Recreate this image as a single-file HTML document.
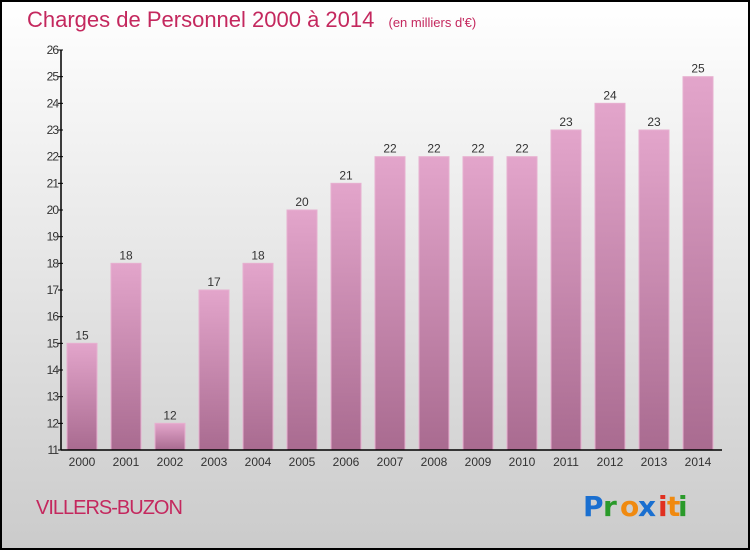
<!DOCTYPE html>
<html><head><meta charset="utf-8"><style>
body{margin:0;width:750px;height:550px;overflow:hidden}
svg{display:block;font-family:"Liberation Sans",sans-serif}
</style></head><body>
<svg width="750" height="550" viewBox="0 0 750 550" xmlns="http://www.w3.org/2000/svg">
<defs>
<linearGradient id="bg" x1="0" y1="0" x2="0" y2="1"><stop offset="0" stop-color="#ffffff"/><stop offset="1" stop-color="#cbcbcb"/></linearGradient>
<linearGradient id="bar" x1="0" y1="0" x2="0" y2="1"><stop offset="0" stop-color="#e3a5cb"/><stop offset="1" stop-color="#a96b90"/></linearGradient>
</defs>
<rect x="1" y="1" width="748" height="548" fill="url(#bg)" stroke="#000" stroke-width="2"/>
<text x="27" y="27" font-size="22" fill="#c4285e">Charges de Personnel 2000 à 2014 <tspan font-size="13" dx="8">(en milliers d'€)</tspan></text>
<g id="plot"></g>
<text x="36" y="514" font-size="20" fill="#c4285e" letter-spacing="-1">VILLERS-BUZON</text>
<g font-size="28" font-weight="bold" font-family="'DejaVu Sans',sans-serif">
<text x="583" y="516" fill="#1a6fd0">P</text><text x="603" y="516" fill="#2a9a2a">r</text><text x="620" y="516" fill="#f08a10">o</text><text x="638" y="516" fill="#1a6fd0">x</text><text x="658" y="516" fill="#e03020">i</text><text x="667" y="516" fill="#f08a10">t</text><text x="678" y="516" fill="#2a9a2a">i</text>
</g>
</svg>
<script>
const years=["2000","2001","2002","2003","2004","2005","2006","2007","2008","2009","2010","2011","2012","2013","2014"];
const values=[15,18,12,17,18,20,21,22,22,22,22,23,24,23,25];
const yTicks=[11,12,13,14,15,16,17,18,19,20,21,22,23,24,25,26];
const NS="http://www.w3.org/2000/svg";
const g=document.getElementById('plot');
const y0=450,yTop=50,vMin=11,vMax=26;
const yS=v=>y0-(v-vMin)*(y0-yTop)/(vMax-vMin);
const xS=i=>82+i*44;
function mk(t,a){const e=document.createElementNS(NS,t);for(const k in a)e.setAttribute(k,a[k]);g.appendChild(e);return e;}
values.forEach((v,i)=>{
 const r=mk('rect',{x:xS(i)-15,y:yS(v),width:30,height:y0-yS(v),fill:'url(#bar)',stroke:'#e7b0d0','stroke-width':1});
 
 
 const t=mk('text',{x:xS(i),y:yS(v)-4,'text-anchor':'middle','font-size':12,fill:'#333'});
 t.textContent=v;
 
 
 const xl=mk('text',{x:xS(i),y:466,'text-anchor':'middle','font-size':12,fill:'#333'});
 xl.textContent=years[i];
 
 
});
yTicks.forEach(v=>{
 const tk=mk('line',{x1:58,x2:63,y1:yS(v),y2:yS(v),stroke:'#000'});
 
 
 const l=mk('text',{x:58,y:yS(v)+4,'text-anchor':'end','font-size':12,fill:'#333','letter-spacing':'-1'});
 l.textContent=v;
 
 
});
const ya=mk('line',{x1:61,x2:61,y1:yTop,y2:y0,stroke:'#000','stroke-width':1.5});


const xa=mk('line',{x1:61,x2:722,y1:y0,y2:y0,stroke:'#000','stroke-width':1.5});


</script>
</body></html>
